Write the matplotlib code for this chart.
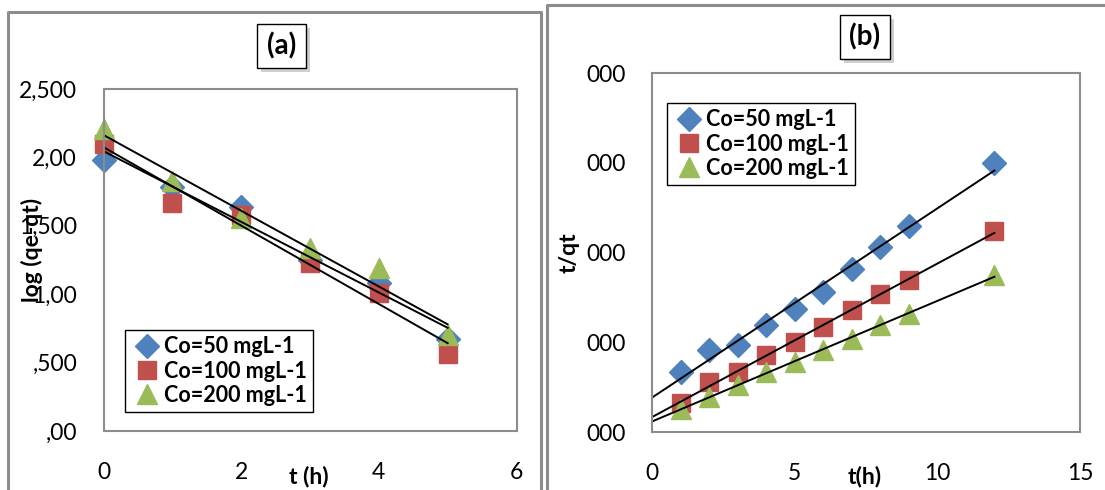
import numpy as np
import matplotlib.pyplot as plt
from matplotlib.patches import Rectangle
from matplotlib.lines import Line2D

plt.rcParams['font.family'] = ['Lato', 'DejaVu Sans']

W, H = 1105, 490

# (a) pseudo-first-order: log(qe-qt) vs t
t_a = [0, 1, 2, 3, 4, 5]
log_50 = [1.98, 1.78, 1.64, 1.25, 1.08, 0.67]
log_100 = [2.10, 1.67, 1.58, 1.23, 1.01, 0.56]
log_200 = [2.21, 1.83, 1.56, 1.34, 1.19, 0.70]
yticks_a = [0, 0.5, 1.0, 1.5, 2.0, 2.5]
ylabels_a = [',00', ',500', '1,00', '1,500', '2,00', '2,500']

# (b) pseudo-second-order: t/qt vs t
t_b = [1, 2, 3, 4, 5, 6, 7, 8, 9, 12]
tq_50 = [0.67, 0.91, 0.97, 1.19, 1.37, 1.56, 1.82, 2.06, 2.30, 3.00]
tq_100 = [0.32, 0.56, 0.67, 0.86, 1.00, 1.17, 1.36, 1.54, 1.69, 2.24]
tq_200 = [0.26, 0.39, 0.52, 0.67, 0.78, 0.91, 1.04, 1.19, 1.32, 1.75]
yticks_b = [0, 1, 2, 3, 4]
ylabels_b = ['000'] * 5

labels = ['Co=50 mgL-1', 'Co=100 mgL-1', 'Co=200 mgL-1']
colors = ['#4F81BD', '#C0504D', '#9BBB59']
markers = ['D', 's', '^']
msizes = [12, 13, 14]


def px(x, y):
    return x / W, 1 - y / H


fig = plt.figure(figsize=(W / 100, H / 100), dpi=100)

# panel borders
fig.add_artist(Line2D([8 / W, 8 / W, 541 / W, 541 / W], [0, 1 - 12 / H, 1 - 12 / H, 0],
                      transform=fig.transFigure, color='#8c8c8c', lw=2.2))
fig.add_artist(Line2D([547 / W, 547 / W, 1], [0, 1 - 5 / H, 1 - 5 / H],
                      transform=fig.transFigure, color='#8c8c8c', lw=2.2))

ax1 = fig.add_axes([103.5 / W, 1 - 431 / H, 413 / W, 342 / H])
ax2 = fig.add_axes([652 / W, 1 - 432 / H, 428 / W, 359 / H])


def draw(ax, t, series, xmax, xticks, yticks, ylabels, ymax, xlabel, ylabel, xend):
    for y, lab, c, m, s in zip(series, labels, colors, markers, msizes):
        ax.plot(t, y, linestyle='none', marker=m, ms=s, color=c, label=lab, clip_on=False)
    for y in series:
        k, b = np.polyfit(t, y, 1)
        xx = np.array([0, xend])
        ax.plot(xx, k * xx + b, color='black', lw=1.4)
    ax.set_xlim(0, xmax)
    ax.set_ylim(0, ymax)
    ax.set_xticks(xticks)
    ax.set_yticks(yticks)
    ax.set_yticklabels(ylabels)
    ax.tick_params(length=0, labelsize=16.5)
    ax.tick_params(axis='x', pad=22)
    ax.tick_params(axis='y', pad=19)
    for sp in ax.spines.values():
        sp.set_color('#8c8c8c')
        sp.set_linewidth(1.5)
    ax.set_xlabel(xlabel, fontsize=16.5, fontweight='bold')
    ax.set_ylabel(ylabel, fontsize=16.5, fontweight='bold')


draw(ax1, t_a, [log_50, log_100, log_200], 6, [0, 2, 4, 6], yticks_a, ylabels_a, 2.5,
     't (h)', 'log (qe-qt)', 5)
draw(ax2, t_b, [tq_50, tq_100, tq_200], 15, [0, 5, 10, 15], yticks_b, ylabels_b, 4,
     't(h)', 't/qt', 12)

ax1.xaxis.label.set_va('center')
ax1.xaxis.set_label_coords(0.4976, -0.1345)
ax1.yaxis.label.set_va('center')
ax1.yaxis.set_label_coords(-0.173, 0.529)
ax2.xaxis.label.set_va('center')
ax2.xaxis.set_label_coords(0.4977, -0.125)
ax2.yaxis.label.set_va('center')
ax2.yaxis.set_label_coords(-0.194, 0.4986)

for ax, (lx, ly) in [(ax1, (125, 330)), (ax2, (667, 103))]:
    leg = ax.legend(loc='upper left', bbox_to_anchor=px(lx, ly), bbox_transform=fig.transFigure,
                    fancybox=False, edgecolor='black', framealpha=1, borderaxespad=0,
                    prop={'weight': 'bold', 'size': 15.5}, handletextpad=0.1, handlelength=1.4,
                    labelspacing=0.15, borderpad=0.3)
    leg.get_frame().set_linewidth(1.0)

# title boxes with shadow
for txt, x0, y0, x1, y1 in [('(a)', 257, 24, 306, 68), ('(b)', 840, 15, 890, 59)]:
    fig.add_artist(Rectangle(px(x0 + 4, y1 + 4), (x1 - x0) / W, (y1 - y0) / H,
                             transform=fig.transFigure, fc='#b0b0b0', ec='none', alpha=0.6))
    fig.add_artist(Rectangle(px(x0, y1), (x1 - x0) / W, (y1 - y0) / H,
                             transform=fig.transFigure, fc='white', ec='black', lw=1.0))
    cx, cy = px((x0 + x1) / 2, (y0 + y1) / 2)
    fig.text(cx, cy, txt, ha='center', va='center', fontsize=20, fontweight='bold')

fig.savefig('out.png', dpi=100)
